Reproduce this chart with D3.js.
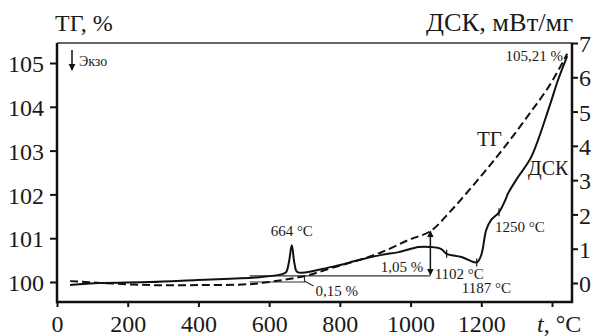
<!DOCTYPE html>
<html><head><meta charset="utf-8">
<script src="https://cdn.jsdelivr.net/npm/d3@7"></script>
<style>
body{margin:0;background:#fff}
svg{display:block}
</style>
</head><body><svg id="c" width="594" height="336"></svg>
<script>
// ---- data ----
const xTicks = [0, 200, 400, 600, 800, 1000, 1200, 1400];
const tgTicks = [100, 101, 102, 103, 104, 105];
const dscTicks = [0, 1, 2, 3, 4, 5, 6, 7];

// TG curve (left axis, %)
const tgT = [37, 121, 262, 403, 544, 600, 656, 713, 777, 854, 918, 994, 1056, 1111, 1168, 1225, 1281, 1338, 1394, 1443];
const tgV = [100.02, 99.98, 99.93, 99.93, 99.95, 100.0, 100.07, 100.16, 100.32, 100.50, 100.68, 100.96, 101.16, 101.60, 102.12, 102.67, 103.24, 103.86, 104.50, 105.21];

// DSC curve (right axis, mW/mg)
const dscT = [37, 121, 262, 397, 572, 637, 648, 656, 664, 672, 680, 777, 854, 918, 966, 1023, 1056, 1087, 1102, 1144, 1187, 1200, 1214, 1228, 1250, 1268, 1276, 1304, 1341, 1394, 1417, 1443];
const dscV = [-0.06, 0.0, 0.03, 0.09, 0.17, 0.26, 0.32, 0.61, 1.10, 0.55, 0.32, 0.47, 0.67, 0.82, 0.90, 1.05, 1.05, 0.99, 0.85, 0.76, 0.60, 0.82, 1.55, 1.84, 2.06, 2.42, 2.62, 3.09, 3.67, 5.19, 5.92, 6.62];

// annotations
const markTemps = [1102, 1187, 1250];
const markLabels = ["1102 °C", "1187 °C", "1250 °C"];
const peakTemp = 664;
const tgBase = 100.0, tgStep = 100.14, tgArrowTop = 101.16;
const bracketStart = 545, bracketEnd = 700, arrowTemp = 1056;

// ---- drawing ----
const FONT = '"Liberation Serif", "Times New Roman", "DejaVu Serif", serif';
const svg = d3.select("#c").attr("font-family", FONT);
const L = 57, R = 572, T = 43, B = 302;
const x = d3.scaleLinear().domain([0, 1400]).range([57, 552]);
const yL = d3.scaleLinear().domain([100, 105]).range([282, 63]);
const yR = d3.scaleLinear().domain([0, 7]).range([283, 43]);

const defs = svg.append("defs");
defs.append("marker").attr("id", "ah").attr("viewBox", "0 0 10 10").attr("refX", 9).attr("refY", 5)
  .attr("markerWidth", 7).attr("markerHeight", 8).attr("markerUnits", "userSpaceOnUse").attr("orient", "auto-start-reverse")
  .append("path").attr("d", "M0,0 L10,5 L0,10 z").attr("fill", "#111");

// axes
const ax = svg.append("g").attr("transform", `translate(0,${B})`)
  .call(d3.axisBottom(x).tickValues(xTicks).tickSize(5).tickPadding(8)
    .tickFormat(d => d === 1400 ? "" : d3.format("d")(d)));
const ay = svg.append("g").attr("transform", `translate(${L},0)`)
  .call(d3.axisLeft(yL).tickValues(tgTicks).tickSize(7).tickPadding(6).tickFormat(d3.format("d")));
const ar = svg.append("g").attr("transform", `translate(${R},0)`)
  .call(d3.axisRight(yR).tickValues(dscTicks).tickSize(6).tickPadding(1).tickFormat(d3.format("d")));
[ax, ay, ar].forEach(g => {
  g.attr("font-family", FONT);
  g.select(".domain").remove();
  g.selectAll(".tick line").attr("stroke", "#111").attr("stroke-width", 2);
  g.selectAll(".tick text").attr("font-size", 24).attr("fill", "#1a1a1a").attr("font-family", FONT);
});
ay.selectAll(".tick text").attr("dy", "0.36em");
ar.selectAll(".tick text").attr("dy", "0.36em");

// frame
svg.append("line").attr("x1", L).attr("x2", R).attr("y1", T).attr("y2", T).attr("stroke", "#333").attr("stroke-width", 1.5);
svg.append("path").attr("d", `M${L},${T}V${B}H${R}V${T}`).attr("fill", "none").attr("stroke", "#111").attr("stroke-width", 2.5);

// titles
const txt = (tx, ty, s, size, anchor) => svg.append("text").attr("x", tx).attr("y", ty)
  .attr("font-size", size).attr("font-family", FONT).attr("fill", "#1a1a1a")
  .attr("text-anchor", anchor || "start").text(s);
txt(55, 31, "ТГ, %", 24);
txt(426, 31, "ДСК, мВт/мг", 25).attr("textLength", 147).attr("lengthAdjust", "spacingAndGlyphs");
const tl = svg.append("text").attr("x", 537).attr("y", 332).attr("font-size", 24).attr("font-family", FONT).attr("fill", "#1a1a1a");
tl.append("tspan").attr("font-style", "italic").text("t");
tl.append("tspan").text(", °C");

// exo
svg.append("line").attr("x1", 72).attr("x2", 72).attr("y1", 50).attr("y2", 70)
  .attr("stroke", "#111").attr("stroke-width", 1.5).attr("marker-end", "url(#ah)");
txt(79, 66, "Экзо", 14);

// annotation lines (bracket)
const g = svg.append("g").attr("stroke", "#333").attr("stroke-width", 1.2).attr("fill", "none");
g.append("path").attr("d", `M${x(bracketStart)},${yL(tgStep)}H${x(arrowTemp)}`);
g.append("path").attr("d", `M${x(bracketStart)},${yL(tgBase)}H${x(bracketEnd)}V${yL(tgStep)}`);
g.append("path").attr("d", `M${x(bracketEnd)},${yL(tgBase) - 1}L${x(bracketEnd) + 9},${yL(tgBase) + 4}`);

// curves
const lineTG = d3.line().x((d, i) => x(tgT[i])).y(d => yL(d)).curve(d3.curveCatmullRom.alpha(0.5));
const lineDSC = d3.line().x((d, i) => x(dscT[i])).y(d => yR(d)).curve(d3.curveCatmullRom.alpha(0.5));
svg.append("path").attr("d", lineTG(tgV)).attr("fill", "none").attr("stroke", "#111")
  .attr("stroke-width", 2).attr("stroke-dasharray", "8,4");
svg.append("path").attr("d", lineDSC(dscV)).attr("fill", "none").attr("stroke", "#111").attr("stroke-width", 2);

// double arrow
svg.append("line").attr("x1", x(arrowTemp)).attr("x2", x(arrowTemp))
  .attr("y1", yL(tgStep) - 1).attr("y2", yL(tgArrowTop))
  .attr("stroke", "#111").attr("stroke-width", 1.5)
  .attr("marker-start", "url(#ah)").attr("marker-end", "url(#ah)");

// marks on DSC
const dscAt = t => dscV[dscT.indexOf(t)];
markTemps.forEach(t => {
  const cy = yR(dscAt(t));
  svg.append("line").attr("x1", x(t)).attr("x2", x(t)).attr("y1", cy - 4).attr("y2", cy + 4)
    .attr("stroke", "#111").attr("stroke-width", 1.2);
});

// labels
txt(x(peakTemp), yR(dscAt(peakTemp)) - 9, "664 °C", 15, "middle");
txt(x(1102) - 12, 279, markLabels[0], 15);
txt(x(1187) - 15, 293, markLabels[1], 15);
txt(x(1250) - 4, 232, markLabels[2], 15);
txt(x(arrowTemp) - 7, 272, "1,05 %", 15, "end");
txt(x(bracketEnd) + 11, 296, "0,15 %", 15);
txt(563, 61, "105,21 %", 15, "end");
txt(477, 146, "ТГ", 21);
txt(528, 175, "ДСК", 20);
</script>
</body></html>
